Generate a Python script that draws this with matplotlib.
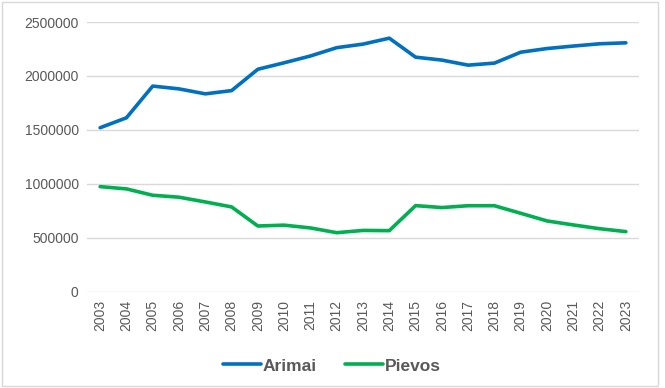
import matplotlib
matplotlib.use("Agg")
import matplotlib.pyplot as plt
from matplotlib.patches import Rectangle

years = [str(y) for y in range(2003, 2024)]
arimai = [1520000, 1612000, 1906000, 1880000, 1834000, 1864000, 2062000, 2122000,
          2185000, 2262000, 2295000, 2350000, 2174000, 2147000, 2100000, 2119000,
          2220000, 2254000, 2277000, 2298000, 2307000]
pievos = [974000, 953000, 894000, 876000, 832000, 786000, 609000, 617000,
          591000, 547000, 568000, 566000, 798000, 780000, 797000, 797000,
          727000, 656000, 619000, 584000, 557000]
yticks = [0, 500000, 1000000, 1500000, 2000000, 2500000]

plt.rcParams['font.family'] = ['Liberation Sans', 'DejaVu Sans']

fig = plt.figure(figsize=(6.65, 3.88), dpi=100)
ax = fig.add_axes([87/665, 1-291.7/388, (639-87)/665, (291.7-22)/388])

x = list(range(len(years)))
ax.plot(x, arimai, color='#0070C0', lw=2.6, label='Arimai', solid_capstyle='round')
ax.plot(x, pievos, color='#00B050', lw=2.6, label='Pievos', solid_capstyle='round')

ax.set_xlim(-0.5, len(years) - 0.5)
ax.set_ylim(0, 2500000)
ax.set_yticks(yticks)
ax.set_yticklabels([str(v) for v in yticks], color='#595959', fontsize=10)
ax.set_xticks(x)
ax.set_xticklabels(years, rotation=90, color='#595959', fontsize=10)
ax.tick_params(length=0, pad=6)
ax.grid(axis='y', color='#D9D9D9', lw=1)
ax.set_axisbelow(True)
for s in ax.spines.values():
    s.set_visible(False)

leg = fig.legend(loc='center', bbox_to_anchor=(332/665, 1-366/388), ncol=2,
                 frameon=False, handlelength=2.2, columnspacing=1.6, handletextpad=0.1,
                 prop={'weight': 'bold', 'size': 12.5})
for t in leg.get_texts():
    t.set_color('#595959')

fig.patches.append(Rectangle((2/665, 2/388), 656/665, 384/388, transform=fig.transFigure,
                             fill=False, edgecolor='#D9D9D9', lw=1))

fig.savefig('out.png', dpi=100)
